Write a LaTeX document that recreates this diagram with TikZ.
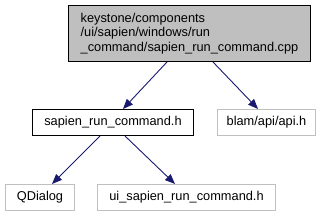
\documentclass[tikz,border=0pt]{standalone}
\usepackage{fontspec}
\setmainfont{Liberation Sans}
\usetikzlibrary{arrows.meta}
\definecolor{edgecol}{HTML}{191970}
\definecolor{graybox}{HTML}{BFBFBF}
\tikzset{
  box/.style={draw, line width=1pt, minimum height=26pt, inner sep=0pt, font=\fontsize{12.8pt}{14.5pt}\selectfont, anchor=north west},
  darkbox/.style={box, draw=black},
  lightbox/.style={box, draw=graybox},
  arr/.style={draw=edgecol, line width=0.9pt, -{Triangle[length=10pt,width=8pt]}, color=edgecol}
}
\begin{document}
\begin{tikzpicture}[x=1pt,y=-1pt]
\useasboundingbox (0,0) rectangle (325,216);
\node[darkbox, fill=graybox, minimum width=242pt, minimum height=56pt, align=left] (top) at (68,5)
  {keystone/components\\/ui/sapien/windows/run\\\_command/sapien\_run\_command.cpp};
\node[darkbox, minimum width=161pt] (srch) at (32,109) {sapien\_run\_command.h};
\node[lightbox, minimum width=98pt] (api) at (217,109) {blam/api/api.h};
\node[lightbox, minimum width=69pt] (qd) at (5,184) {QDialog};
\node[lightbox, minimum width=178pt] (ui) at (97,184) {ui\_sapien\_run\_command.h};
\draw[arr] ([xshift=99pt]top.south west) -- ([xshift=91pt]srch.north west);
\draw[arr] ([xshift=145pt]top.south west) -- ([xshift=41pt]api.north west);
\draw[arr] ([xshift=68pt]srch.south west) -- ([xshift=47pt]qd.north west);
\draw[arr] ([xshift=93pt]srch.south west) -- ([xshift=78pt]ui.north west);
\end{tikzpicture}
\end{document}
